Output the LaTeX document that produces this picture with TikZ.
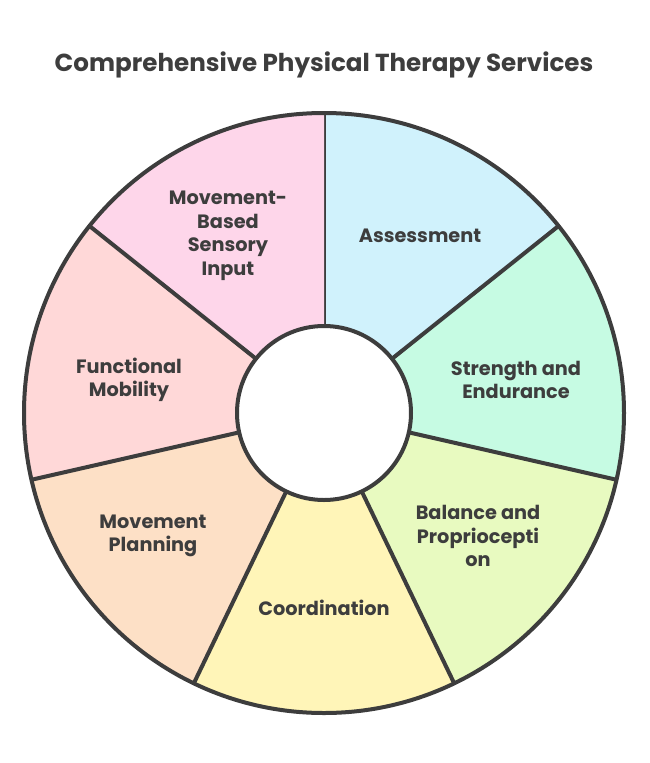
\documentclass[tikz,border=0pt]{standalone}
\usepackage{fontspec}
\setmainfont{Poppins}
\usetikzlibrary{calc}
\definecolor{ink}{HTML}{3D3D3D}
\definecolor{fillA}{HTML}{D0F2FC}
\definecolor{fillB}{HTML}{C6FBE3}
\definecolor{fillC}{HTML}{E8FAC0}
\definecolor{fillD}{HTML}{FFF5B8}
\definecolor{fillE}{HTML}{FDE0C6}
\definecolor{fillF}{HTML}{FFD8D8}
\definecolor{fillG}{HTML}{FED6EA}

\begin{document}
\begin{tikzpicture}[x=1pt, y=-1pt, line join=round,
    ring/.style={draw=ink, line width=4pt},
    lbl/.style={font=\bfseries\fontsize{19.3}{23.5}\selectfont, text=ink, align=center}]
  \useasboundingbox (0,0) rectangle (649,763);
  \coordinate (c) at (324,413);

  % sectors, clockwise from the top
  \foreach \i/\col in {0/fillA, 1/fillB, 2/fillC, 3/fillD, 4/fillE, 5/fillF, 6/fillG}
    {
      \pgfmathsetmacro{\s}{270+\i*360/7}
      \pgfmathsetmacro{\e}{270+(\i+1)*360/7}
      \fill[\col, shift={(c)}] (\s:87) -- (\s:300) arc[start angle=\s, end angle=\e, radius=300]
        -- (\e:87) arc[start angle=\e, end angle=\s, radius=87] -- cycle;
      \draw[ring, shift={(c)}] (\s:87) -- (\s:300);
    }
  \draw[ring] (c) circle[radius=300];
  \draw[ring, fill=white] (c) circle[radius=87];

  \node[lbl, font=\bfseries\fontsize{24.6}{28}\selectfont] (title) at (324,65) {Comprehensive Physical Therapy Services};

  \node[lbl] (assess) at (420,236) {Assessment};
  \node[lbl] (strength) at (516,380) {Strength and\\Endurance};
  \node[lbl] (balance) at (478,536) {Balance and\\Propriocepti\\on};
  \node[lbl] (coord) at (324,608) {Coordination};
  \node[lbl] (planning) at (153,536) {Movement\\Planning};
  \node[lbl] (mobility) at (129,380) {Functional\\Mobility};
  \node[lbl] (sensory) at (228,236) {Movement-\\Based\\Sensory\\Input};
\end{tikzpicture}
\end{document}
